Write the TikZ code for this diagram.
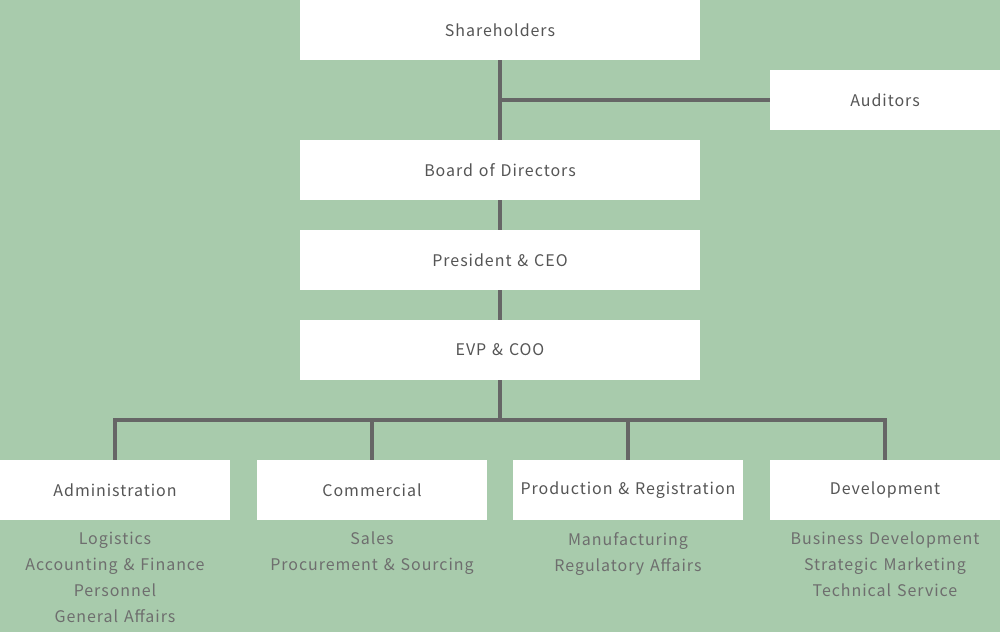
\documentclass[tikz,border=0pt]{standalone}
\usepackage{fontspec}
\setmainfont[LetterSpace=6,WordSpace=1.3]{Noto Sans CJK JP}
\definecolor{bg}{HTML}{A8CBAC}
\definecolor{linegray}{HTML}{666666}
\definecolor{boxtext}{HTML}{555555}
\definecolor{subtext}{HTML}{6E6E6E}
\tikzset{
  orgbox/.style = {fill=white, minimum width=400pt, minimum height=60pt, inner sep=0pt,
    text=boxtext, font=\fontsize{16}{20}\selectfont},
  unitbox/.style = {orgbox, minimum width=230pt},
  sublist/.style = {anchor=north, align=center, inner sep=0pt, text=subtext,
    font=\fontsize{16}{26}\selectfont},
  link/.style = {draw=linegray, line width=4pt}
}
\begin{document}
\begin{tikzpicture}[x=1pt, y=-1pt]
  \fill [bg] (0,0) rectangle (1000,632);
  \useasboundingbox (0,0) rectangle (1000,632);
  % top of the chart
  \node [orgbox] (share) at (500,30) {Shareholders};
  \node [unitbox] (audit) at (885,100) {Auditors};
  \node [orgbox] (board) at (500,170) {Board of Directors};
  \node [orgbox] (ceo) at (500,260) {President \& CEO};
  \node [orgbox] (coo) at (500,350) {EVP \& COO};
  \coordinate (bus) at (500,420);
  % divisions
  \node [unitbox] (admin) at (115,490) {Administration};
  \node [unitbox] (comm) at (372,490) {Commercial};
  \node [unitbox] (prod) at (628,490) {Production \& Registration};
  \node [unitbox] (dev) at (885,490) {Development};
  \node [sublist] (adminsub) at (115,532) {Logistics\\Accounting \& Finance\\Personnel\\General Affairs};
  \node [sublist] (commsub) at (372,532) {Sales\\Procurement \& Sourcing};
  \node [sublist] (prodsub) at (628,532) {Manufacturing\\Regulatory Affairs};
  \node [sublist] (devsub) at (885,532) {Business Development\\Strategic Marketing\\Technical Service};
  % connectors
  \draw [link] (share.south) -- (board.north);
  \draw [link] (share.south |- audit.west) -- (audit.west);
  \draw [link] (board.south) -- (ceo.north);
  \draw [link] (ceo.south) -- (coo.north);
  \draw [link] (coo.south) -- (bus);
  \draw [link] (admin.north) |- (bus) -| (dev.north);
  \draw [link] (comm.north) -- (comm.north |- bus);
  \draw [link] (prod.north) -- (prod.north |- bus);
\end{tikzpicture}
\end{document}
